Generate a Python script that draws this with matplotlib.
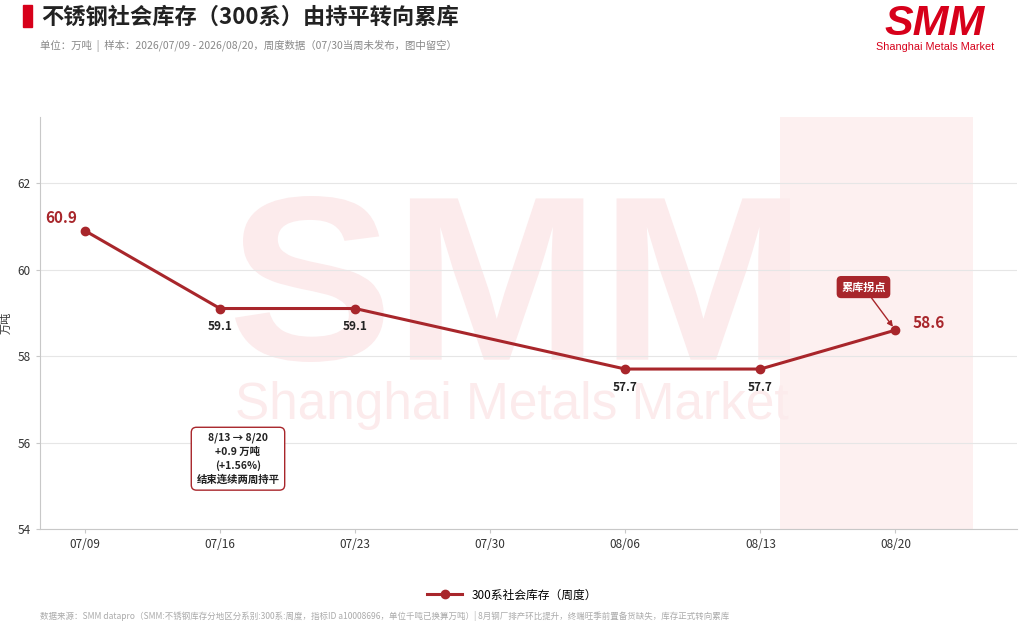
import matplotlib
matplotlib.use("Agg")
import matplotlib.pyplot as plt
from matplotlib.patches import Rectangle, PathPatch
from matplotlib.textpath import TextPath
from matplotlib.font_manager import FontProperties
from matplotlib.transforms import Affine2D

plt.rcParams['font.family'] = ['Noto Sans CJK SC', 'DejaVu Sans']

# ---- data ----
dates = ["07/09", "07/16", "07/23", "08/06", "08/13", "08/20"]
day_offsets = [0, 7, 14, 28, 35, 42]           # days since 07/09
values = [60.9, 59.1, 59.1, 57.7, 57.7, 58.6]
tick_labels = ["07/09", "07/16", "07/23", "07/30", "08/06", "08/13", "08/20"]
tick_days = [0, 7, 14, 21, 28, 35, 42]
y_ticks = [54, 56, 58, 60, 62]
series_name = "300系社会库存（周度）"

RED = "#a8262b"
W, H = 1024, 629
fig = plt.figure(figsize=(10.24, 6.29), dpi=100)
ax = fig.add_axes([40/W, 1-529/H, (1017-40)/W, (529-117)/H])

ax.set_xlim(-2.33, 48.3)
ax.set_ylim(54, 63.53)

# shaded region
ax.axvspan(36, 46, color="#fdeeee", alpha=0.85, zorder=0, lw=0)

# watermark "SMM" fitted into a pixel box (x 235-790, y 196-362)
tp = TextPath((0, 0), "SMM", size=100, prop=FontProperties(family="Liberation Sans", weight="bold"))
ext = tp.get_extents()
x0, x1, ytop, ybot = 235, 790, 196, 362
sx = (x1 - x0) / W / ext.width
sy = (ybot - ytop) / H / ext.height
tr = (Affine2D().translate(-ext.x0, -ext.y0).scale(sx, sy)
      .translate(x0 / W, 1 - ybot / H)) + fig.transFigure
wm = PathPatch(tp, transform=tr, fc="#fcebec", ec="none", zorder=0.5)
ax.add_artist(wm)
ax.text(512/W, 1-405/H, "Shanghai Metals Market", transform=fig.transFigure, ha="center",
        va="center", fontsize=37, color="#fcebec", family="Liberation Sans", zorder=0.6)

ax.grid(axis="y", color="#e6e6e6", lw=0.8, zorder=1)
ax.set_axisbelow(True)
for s in ["top", "right"]:
    ax.spines[s].set_visible(False)
for s in ["left", "bottom"]:
    ax.spines[s].set_color("#c8c8c8")
ax.set_xticks(tick_days)
ax.set_xticklabels(tick_labels)
ax.set_yticks(y_ticks)
ax.tick_params(axis="both", colors="#c8c8c8", labelcolor="#333333", labelsize=8.5, length=3)
ax.set_ylabel("万吨", fontsize=8, color="#333333")
ax.yaxis.set_label_coords(-28/977, 0.5)

line, = ax.plot(day_offsets, values, color=RED, lw=2.2, marker="o", markersize=6,
                zorder=5, label=series_name)

# data labels
for i, (d, v) in enumerate(zip(day_offsets, values)):
    if i == 0:
        ax.annotate(f"{v}", (d, v), xytext=(-17, 9), textcoords="offset points",
                    ha="center", va="center", fontsize=11, fontweight="bold", color=RED)
    elif i == len(values) - 1:
        ax.annotate(f"{v}", (d, v), xytext=(24, 5), textcoords="offset points",
                    ha="center", va="center", fontsize=11, fontweight="bold", color=RED)
    else:
        ax.annotate(f"{v}", (d, v), xytext=(0, -13), textcoords="offset points",
                    ha="center", va="center", fontsize=8.5, fontweight="bold", color="#222222",
                    zorder=6)

# callout
ax.annotate("累库拐点", xy=(day_offsets[-1], values[-1]), xytext=(-23, 31),
            textcoords="offset points", ha="center", va="center", fontsize=8,
            fontweight="bold", color="white",
            bbox=dict(boxstyle="round,pad=0.35", fc=RED, ec=RED),
            arrowprops=dict(arrowstyle="-|>", color=RED, lw=1, shrinkA=0, shrinkB=3,
                            mutation_scale=8))

# info box
ax.text(7.93, 55.62, "8/13 → 8/20\n+0.9 万吨\n(+1.56%)\n结束连续两周持平",
        ha="center", va="center", fontsize=7.5, fontweight="bold", color="#222222",
        linespacing=1.4,
        bbox=dict(boxstyle="round,pad=0.5", fc="white", ec=RED, lw=1), zorder=6)

# title block
fig.patches.append(Rectangle((23/W, 1-27/H), 9/W, 22/H, transform=fig.transFigure,
                             color="#d7001a"))
fig.text(41/W, 1-17/H, "不锈钢社会库存（300系）由持平转向累库", fontsize=16,
         fontweight="bold", color="#222222", va="center")
fig.text(40/W, 1-46/H,
         "单位：万吨  |  样本：2026/07/09 - 2026/08/20，周度数据（07/30当周未发布，图中留空）",
         fontsize=7.5, color="#888888", va="center")

# logo
fig.text(935/W, 1-24/H, "SMM", fontsize=31, fontweight="bold", style="italic",
         color="#d7001a", ha="center", va="center", family="Liberation Sans")
fig.text(935/W, 1-47/H, "Shanghai Metals Market", fontsize=7.8, color="#d7001a",
         ha="center", va="center", family="Liberation Sans")

# legend
fig.legend(handles=[line], loc="center", bbox_to_anchor=(0.5, 1-595/H), frameon=False,
           fontsize=8.5, handlelength=3)

# footer
fig.text(40/W, 1-616/H,
         "数据来源：SMM datapro（SMM:不锈钢库存分地区分系别:300系:周度，指标ID a10008696，单位千吨已换算万吨）| 8月钢厂排产环比提升，终端旺季前置备货缺失，库存正式转向累库",
         fontsize=6.1, color="#aaaaaa", va="center")

fig.savefig("out.png", dpi=100)
